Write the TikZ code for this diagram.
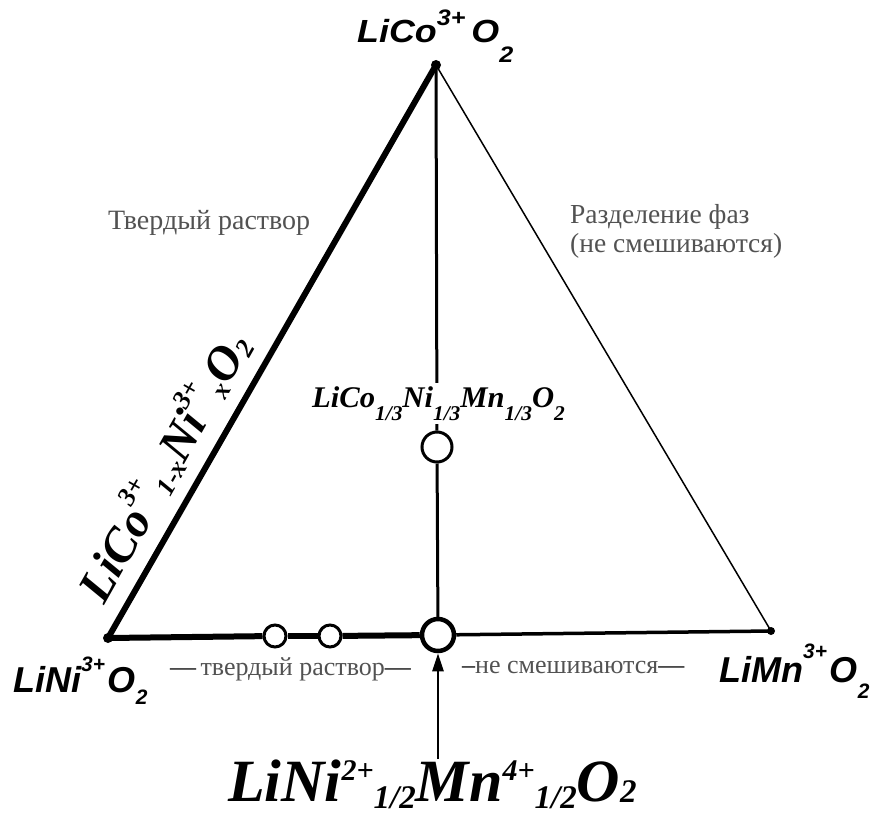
\documentclass[tikz,border=0pt]{standalone}
\usepackage{fontspec}
\setmainfont{Liberation Serif}
\newfontfamily\sansf{Liberation Sans}
\usetikzlibrary{arrows.meta}
\definecolor{tg}{gray}{0.32}
\newcommand\rs[3]{\raisebox{#1}{\scalebox{#2}{#3}}}
\begin{document}
\begin{tikzpicture}[x=1pt,y=-1pt]
\useasboundingbox (0,0) rectangle (878,816);
\tikzset{
 vdot/.style={circle,fill=black,inner sep=0pt,minimum size=#1},
 ring/.style={circle,draw=black,fill=white,inner sep=0pt,line width=#1},
 lbl/.style={inner sep=0pt,anchor=base west},
 gtxt/.style={inner sep=0pt,anchor=base west,text=tg,font=\fontsize{27.5}{27.5}\selectfont},
}
% vertices and composition points
\node[vdot=10pt] (vt) at (436,65) {};
\node[vdot=10pt] (vl) at (108,638) {};
\node[vdot=8pt] (vr) at (771,631) {};
\node[ring=3pt,minimum size=30pt] (cm) at (437,447) {};
\node[ring=3pt,minimum size=22pt] (s1) at (275,636) {};
\node[ring=3pt,minimum size=22pt] (s2) at (330,636) {};
\node[ring=4.5pt,minimum size=32pt] (cb) at (438,635) {};
% edges
\draw[line width=6pt,line cap=round] (vl.center) -- (vt.center);
\draw[line width=1.5pt] (vt.center) -- (vr.center);
\draw[line width=3pt] (vt.center) -- (cm);
\draw[line width=3pt] (cm) -- (cb);
\draw[line width=6pt] (vl.center) -- (s1);
\draw[line width=6pt] (s1) -- (s2);
\draw[line width=6pt] (s2) -- (cb);
\draw[line width=3.5pt] (cb) -- (vr.center);
% labels
\node[lbl,font=\sansf\bfseries\itshape\fontsize{32}{32}\selectfont] (ltop) at (357,43)
 {\scalebox{1.12}[1]{LiCo\rs{0.55em}{0.7}{3+}\,O\rs{-0.6em}{0.7}{2}}};
\node[lbl,font=\sansf\bfseries\itshape\fontsize{36}{36}\selectfont] (lni) at (13,692)
 {LiNi\rs{0.58em}{0.58}{3+}\hspace{3pt}O\rs{-0.35em}{0.58}{2}};
\node[lbl,font=\sansf\bfseries\itshape\fontsize{36}{36}\selectfont] (lmn) at (719,682)
 {LiMn\rs{0.65em}{0.58}{3+}\hspace{3pt}O\rs{-0.45em}{0.58}{2}};
\node[lbl,inner ysep=3pt,fill=white,font=\bfseries\itshape\fontsize{30}{30}\selectfont] (lmid) at (312,407)
 {\scalebox{1.02}[1]{LiCo\rs{-0.45em}{0.7}{1/3}Ni\rs{-0.45em}{0.7}{1/3}Mn\rs{-0.45em}{0.7}{1/3}O\rs{-0.45em}{0.7}{2}}};
\node[font=\bfseries\itshape\fontsize{48}{48}\selectfont,rotate=60.5,inner sep=0pt] (ledge) at (162,466)
 {LiCo\rs{0.5em}{0.55}{3+}\rs{-0.1em}{0.55}{1-x}Ni\rs{0.5em}{0.55}{3+}\rs{-0.1em}{0.55}{x}O\rs{-0.1em}{0.55}{2}};
\node[lbl,font=\bfseries\itshape\fontsize{60}{60}\selectfont] (lbot) at (228,801)
 {LiNi\rs{0.35em}{0.5}{2+}\rs{-0.12em}{0.55}{1/2}Mn\rs{0.35em}{0.5}{4+}\rs{-0.12em}{0.55}{1/2}O\rs{-0.03em}{0.55}{2}};
\draw[line width=2.5pt,-{Triangle[length=18pt,width=11pt]}] (lbot.north -| cb.south) -- (cb.south);
% region texts
\node[gtxt,font=\fontsize{28}{28}\selectfont] (tl) at (108,229) {Твердый раствор};
\node[gtxt] (sp1) at (570,223) {Разделение фаз};
\node[gtxt] (sp2) at (570,252) {(не смешиваются)};
\node[gtxt,font=\fontsize{26}{26}\selectfont] (bl) at (170,675) {\textcolor{black}{—}\,твердый раствор\textcolor{black}{—}};
\node[gtxt,font=\fontsize{26}{26}\selectfont] (br) at (462,673) {\textcolor{black}{–}не смешиваются\textcolor{black}{—}};
\end{tikzpicture}
\end{document}
